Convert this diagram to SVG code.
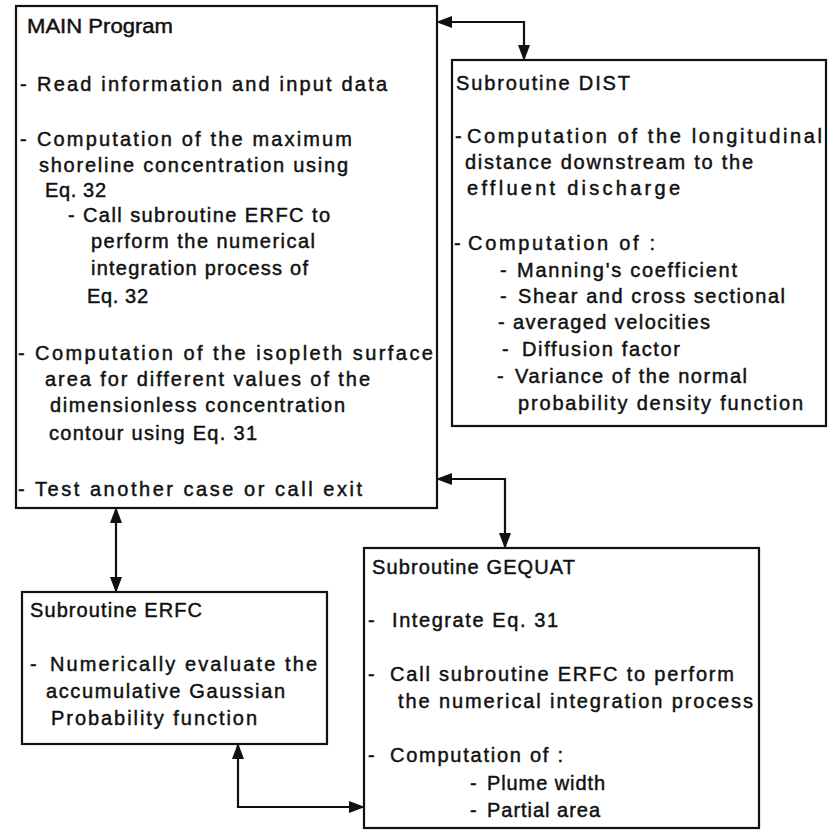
<svg xmlns="http://www.w3.org/2000/svg" width="830" height="830" viewBox="0 0 830 830">
  <style>
    .box { fill: #ffffff; stroke: #111111; stroke-width: 2.2; }
    .wire { fill: none; stroke: #111111; stroke-width: 2.2; }
    text { font-family: "Liberation Sans", Arial, Helvetica, sans-serif; font-size: 20px; fill: #111111; stroke: #111111; stroke-width: 0.45; }
  </style>
  <defs>
    <marker id="head" viewBox="0 0 16 12" markerUnits="userSpaceOnUse" markerWidth="16" markerHeight="12" refX="15" refY="6" orient="auto-start-reverse">
      <path d="M0,0 L16,6 L0,12 Z" fill="#111111"/>
    </marker>
  </defs>
  <rect width="830" height="830" fill="#ffffff"/>

  <!-- MAIN program -->
  <g id="main">
    <rect class="box" x="16" y="6" width="421" height="502"/>
    <text x="27" y="33" textLength="146" lengthAdjust="spacingAndGlyphs">MAIN Program</text>
    <text x="20" y="91">-</text>
    <text x="37" y="91" textLength="350" lengthAdjust="spacing">Read information and input data</text>
    <text x="20" y="146">-</text>
    <text x="37" y="146" textLength="315" lengthAdjust="spacing">Computation of the maximum</text>
    <text x="39" y="172" textLength="309" lengthAdjust="spacing">shoreline concentration using</text>
    <text x="45" y="197" textLength="61" lengthAdjust="spacing">Eq. 32</text>
    <text x="68" y="222">-</text>
    <text x="83" y="222" textLength="247" lengthAdjust="spacing">Call subroutine ERFC to</text>
    <text x="91" y="248" textLength="224" lengthAdjust="spacing">perform the numerical</text>
    <text x="91" y="275" textLength="217" lengthAdjust="spacing">integration process of</text>
    <text x="87" y="303" textLength="61" lengthAdjust="spacing">Eq. 32</text>
    <text x="18" y="360">-</text>
    <text x="35" y="360" textLength="398" lengthAdjust="spacing">Computation of the isopleth surface</text>
    <text x="45" y="386" textLength="325" lengthAdjust="spacing">area for different values of the</text>
    <text x="50" y="412" textLength="295" lengthAdjust="spacing">dimensionless concentration</text>
    <text x="49" y="440" textLength="208" lengthAdjust="spacing">contour using Eq. 31</text>
    <text x="18" y="496">-</text>
    <text x="35" y="496" textLength="327" lengthAdjust="spacing">Test another case or call exit</text>
  </g>

  <!-- Subroutine DIST -->
  <g id="dist">
    <rect class="box" x="452" y="60" width="374" height="366"/>
    <text x="456" y="90" textLength="174" lengthAdjust="spacing">Subroutine DIST</text>
    <text x="455" y="143">-</text>
    <text x="467" y="143" textLength="355" lengthAdjust="spacing">Computation of the longitudinal</text>
    <text x="465" y="169" textLength="288" lengthAdjust="spacing">distance downstream to the</text>
    <text x="467" y="195" textLength="213" lengthAdjust="spacing">effluent discharge</text>
    <text x="454" y="250">-</text>
    <text x="468" y="250" textLength="187" lengthAdjust="spacing">Computation of :</text>
    <text x="500" y="277">-</text>
    <text x="517" y="277" textLength="220" lengthAdjust="spacing">Manning's coefficient</text>
    <text x="500" y="303">-</text>
    <text x="518" y="303" textLength="267" lengthAdjust="spacing">Shear and cross sectional</text>
    <text x="498" y="329">-</text>
    <text x="513" y="329" textLength="197" lengthAdjust="spacing">averaged velocities</text>
    <text x="502" y="356">-</text>
    <text x="522" y="356" textLength="158" lengthAdjust="spacing">Diffusion factor</text>
    <text x="497" y="383">-</text>
    <text x="515" y="383" textLength="232" lengthAdjust="spacing">Variance of the normal</text>
    <text x="518" y="410" textLength="285" lengthAdjust="spacing">probability density function</text>
  </g>

  <!-- Subroutine ERFC -->
  <g id="erfc">
    <rect class="box" x="22" y="592" width="305" height="152"/>
    <text x="30" y="617" textLength="172" lengthAdjust="spacing">Subroutine ERFC</text>
    <text x="30" y="671">-</text>
    <text x="50" y="671" textLength="267" lengthAdjust="spacing">Numerically evaluate the</text>
    <text x="46" y="698" textLength="239" lengthAdjust="spacing">accumulative Gaussian</text>
    <text x="51" y="725" textLength="206" lengthAdjust="spacing">Probability function</text>
  </g>

  <!-- Subroutine GEQUAT -->
  <g id="gequat">
    <rect class="box" x="364" y="548" width="395" height="280"/>
    <text x="372" y="574" textLength="203" lengthAdjust="spacing">Subroutine GEQUAT</text>
    <text x="368" y="627">-</text>
    <text x="392" y="627" textLength="166" lengthAdjust="spacing">Integrate Eq. 31</text>
    <text x="368" y="681">-</text>
    <text x="390" y="681" textLength="344" lengthAdjust="spacing">Call subroutine ERFC to perform</text>
    <text x="398" y="708" textLength="355" lengthAdjust="spacing">the numerical integration process</text>
    <text x="368" y="762">-</text>
    <text x="390" y="762" textLength="173" lengthAdjust="spacing">Computation of :</text>
    <text x="470" y="790">-</text>
    <text x="487" y="790" textLength="118" lengthAdjust="spacing">Plume width</text>
    <text x="470" y="817">-</text>
    <text x="487" y="817" textLength="113" lengthAdjust="spacing">Partial area</text>
  </g>

  <!-- two-way calls between the program units -->
  <g id="connectors">
    <path class="wire" d="M437,22 H524 V60" marker-start="url(#head)" marker-end="url(#head)"/>
    <path class="wire" d="M437,479 H505 V548" marker-start="url(#head)" marker-end="url(#head)"/>
    <path class="wire" d="M116,508 V592" marker-start="url(#head)" marker-end="url(#head)"/>
    <path class="wire" d="M238,744 V807 H364" marker-start="url(#head)" marker-end="url(#head)"/>
  </g>
</svg>
